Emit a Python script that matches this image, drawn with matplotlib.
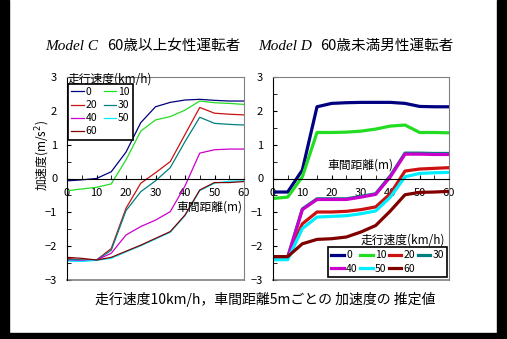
"""Model C / Model D acceleration estimates by headway distance."""

import matplotlib

matplotlib.use("Agg")
import matplotlib.pyplot as plt
from matplotlib.patches import Rectangle

plt.rcParams["font.family"] = ["Noto Sans CJK JP", "DejaVu Sans"]

W, H = 507, 339

distance = [0, 5, 10, 15, 20, 25, 30, 35, 40, 45, 50, 55, 60]
speeds = ["0", "10", "20", "30", "40", "50", "60"]
colors = ["#000080", "#22dd22", "#cc1111", "#008080", "#cc00cc", "#00eeff", "#800000"]

# Model C: 60歳以上女性
model_c = {
    "0": [-0.07, -0.04, 0.0, 0.2, 0.78, 1.65, 2.12, 2.25, 2.32, 2.34, 2.31, 2.29, 2.29],
    "10": [-0.36, -0.31, -0.26, -0.16, 0.55, 1.4, 1.73, 1.83, 2.02, 2.29, 2.24, 2.22, 2.19],
    "20": [-2.36, -2.41, -2.41, -2.07, -0.88, -0.14, 0.17, 0.5, 1.3, 2.10, 1.93, 1.90, 1.88],
    "30": [-2.39, -2.41, -2.41, -2.12, -0.95, -0.39, -0.07, 0.32, 1.09, 1.81, 1.63, 1.60, 1.58],
    "40": [-2.42, -2.43, -2.41, -2.21, -1.67, -1.42, -1.23, -0.98, -0.22, 0.75, 0.85, 0.87, 0.87],
    "50": [-2.44, -2.45, -2.42, -2.36, -2.17, -1.99, -1.79, -1.59, -1.10, -0.36, -0.14, -0.08, -0.07],
    "60": [-2.33, -2.36, -2.41, -2.33, -2.15, -1.97, -1.77, -1.57, -1.08, -0.34, -0.12, -0.12, -0.09],
}

# Model D: 60歳未満男性
model_d = {
    "0": [-0.40, -0.40, 0.25, 2.12, 2.22, 2.24, 2.25, 2.25, 2.25, 2.22, 2.13, 2.12, 2.12],
    "10": [-0.59, -0.55, 0.05, 1.36, 1.36, 1.37, 1.40, 1.46, 1.55, 1.58, 1.36, 1.36, 1.35],
    "20": [-2.31, -2.31, -1.34, -0.99, -0.99, -0.97, -0.92, -0.84, -0.45, 0.22, 0.28, 0.30, 0.32],
    "30": [-2.33, -2.33, -0.90, -0.60, -0.60, -0.60, -0.53, -0.45, 0.08, 0.75, 0.75, 0.74, 0.74],
    "40": [-2.34, -2.34, -0.92, -0.62, -0.62, -0.62, -0.55, -0.47, 0.05, 0.72, 0.72, 0.71, 0.71],
    "50": [-2.40, -2.40, -1.48, -1.14, -1.12, -1.10, -1.04, -0.96, -0.55, 0.05, 0.15, 0.17, 0.18],
    "60": [-2.31, -2.31, -1.93, -1.80, -1.78, -1.73, -1.58, -1.39, -0.96, -0.48, -0.41, -0.40, -0.38],
}

xticks = [0, 10, 20, 30, 40, 50, 60]
yticks = [-3, -2, -1, 0, 1, 2, 3]

# legend entries are laid out row by row in the original
order_two_cols = [0, 2, 4, 6, 1, 3, 5]
order_four_cols = [0, 4, 1, 5, 2, 6, 3]


def px_box(x0, y0, x1, y1):
    """Pixel box (top-left origin) to figure-fraction rect."""
    return [x0 / W, 1 - y1 / H, (x1 - x0) / W, (y1 - y0) / H]


def style_axes(ax):
    ax.set_xlim(0, 60)
    ax.set_ylim(-3, 3)
    ax.spines["bottom"].set_position(("data", 0))
    ax.spines["bottom"].set_color("black")
    ax.spines["left"].set_color("black")
    for side in ("top", "right"):
        ax.spines[side].set_color("#808080")
    ax.axhline(-3, color="#808080", lw=1.2, clip_on=False)
    ax.set_xticks(xticks)
    ax.set_xticks(range(5, 60, 10), minor=True)
    ax.set_yticks(yticks)
    ax.set_yticks([-2.5, -1.5, -0.5, 0.5, 1.5, 2.5], minor=True)
    ax.set_xticklabels([str(v) for v in xticks])
    ax.set_yticklabels([str(v).replace("-", "\u2212") for v in yticks])
    ax.tick_params(axis="x", which="both", direction="in", length=3, pad=7, labelsize=8)
    ax.tick_params(axis="y", which="both", direction="in", length=3, pad=7, labelsize=8)


def add_legend(ax, order, anchor, loc, ncol, colspace):
    handles, labels = ax.get_legend_handles_labels()
    leg = ax.legend(
        [handles[i] for i in order], [labels[i] for i in order],
        loc=loc, bbox_to_anchor=anchor, bbox_transform=fig.transFigure,
        ncol=ncol, fontsize=7.5, frameon=True, fancybox=False, borderaxespad=0,
        handlelength=1.2, handletextpad=0.2, columnspacing=colspace, labelspacing=0.3,
        borderpad=0.3,
    )
    leg.get_frame().set_edgecolor("black")
    leg.get_frame().set_linewidth(1.2)
    leg.get_frame().set_alpha(1)
    return leg


fig = plt.figure(figsize=(W / 100, H / 100), dpi=100)

ax_c = fig.add_axes(px_box(67, 77, 244, 280))
ax_d = fig.add_axes(px_box(273, 77, 449, 280))

for ax, data, lw in ((ax_c, model_c, 0.9), (ax_d, model_d, 2.3)):
    style_axes(ax)
    for spd, col in zip(speeds, colors):
        ax.plot(distance, data[spd], color=col, lw=lw, label=spd)

# left panel labels and legend
ax_c.text(59.5, -0.84, "車間距離(m)", ha="right", va="center", fontsize=8.5)
ax_c.text(-8.2, 0.67, "加速度(m/s$^2$)", rotation=90, ha="center", va="center", fontsize=8.5)
ax_c.text(0.3, 2.93, "走行速度(km/h)", ha="left", va="center", fontsize=8.5)
add_legend(ax_c, order_two_cols, (68 / W, 1 - 84 / H), "upper left", 2, 0.6)

# right panel labels and legend
ax_d.text(18.4, 0.39, "車間距離(m)", ha="left", va="center", fontsize=8.5)
ax_d.text(58.7, -1.83, "走行速度(km/h)", ha="right", va="center", fontsize=8.5)
add_legend(ax_d, order_four_cols, (447 / W, 1 - 276.7 / H), "lower right", 4, 0.25)

# titles
fig.text(45 / W, 1 - 46 / H, "Model C", family="Liberation Serif", style="italic",
         fontsize=11, ha="left", va="center")
fig.text(107 / W, 1 - 46 / H, "60歳以上女性運転者", fontsize=10.5, ha="left", va="center")
fig.text(258 / W, 1 - 46 / H, "Model D", family="Liberation Serif", style="italic",
         fontsize=11, ha="left", va="center")
fig.text(320 / W, 1 - 46 / H, "60歳未満男性運転者", fontsize=10.5, ha="left", va="center")

fig.text(265 / W, 1 - 299 / H, "走行速度10km/h，車間距離5mごとの 加速度の 推定値",
         fontsize=10, ha="center", va="center")

# black frame strips of the original screenshot
for x0, y0, x1, y1 in ((0, 0, 9, H), (497, 0, W, H), (0, 333, W, H)):
    fig.patches.append(Rectangle((x0 / W, 1 - y1 / H), (x1 - x0) / W, (y1 - y0) / H,
                                 transform=fig.transFigure, color="black", zorder=10))

fig.savefig("out.png", dpi=100)
